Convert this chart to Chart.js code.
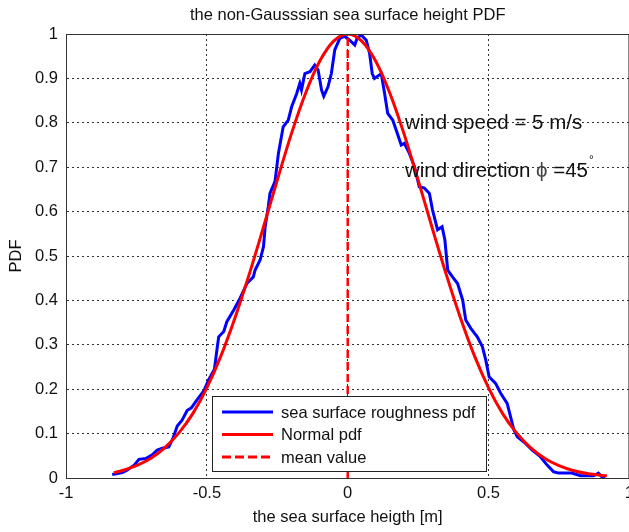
<!DOCTYPE html>
<html>
<head>
<meta charset="utf-8">
<title>sea surface height PDF</title>
<script src="https://cdn.jsdelivr.net/npm/chart.js@4.4.1/dist/chart.umd.min.js"></script>
<style>
    html, body { margin: 0; padding: 0; overflow: hidden; background: #fff; }
    canvas { display: block; }
</style>
</head>
<body>
<canvas id="pdfChart" width="640" height="532"></canvas>
<script>
// measured pdf of the sea surface (x in m, y normalised to peak 1)
const blueX = [-0.836, -0.8, -0.782, -0.758, -0.741, -0.717, -0.694, -0.676, -0.658, -0.635, -0.62, -0.605, -0.588, -0.57, -0.555,
    -0.535, -0.511, -0.494, -0.473, -0.464, -0.458, -0.44, -0.429, -0.405, -0.382, -0.358, -0.335, -0.329, -0.311, -0.299,
    -0.293, -0.282, -0.276, -0.258, -0.246, -0.229, -0.211, -0.199, -0.181, -0.17, -0.164, -0.152, -0.134, -0.117, -0.105,
    -0.093, -0.085, -0.07, -0.058, -0.046, -0.028, -0.011, 0.007, 0.025, 0.033, 0.048, 0.066, 0.078, 0.087, 0.095,
    0.119, 0.131, 0.142, 0.16, 0.172, 0.19, 0.201, 0.219, 0.237, 0.254, 0.272, 0.29, 0.301, 0.319, 0.335,
    0.345, 0.355, 0.372, 0.39, 0.408, 0.419, 0.437, 0.46, 0.478, 0.49, 0.502, 0.525, 0.543, 0.566, 0.578,
    0.59, 0.602, 0.631, 0.655, 0.684, 0.708, 0.731, 0.749, 0.796, 0.826, 0.873, 0.89, 0.902, 0.914];
const blueY = [0.008, 0.012, 0.018, 0.029, 0.042, 0.044, 0.052, 0.063, 0.067, 0.07, 0.09, 0.117, 0.13, 0.152, 0.158,
    0.176, 0.196, 0.221, 0.245, 0.29, 0.318, 0.33, 0.352, 0.378, 0.405, 0.438, 0.453, 0.468, 0.491, 0.521,
    0.566, 0.611, 0.641, 0.668, 0.731, 0.791, 0.806, 0.836, 0.866, 0.889, 0.874, 0.911, 0.915, 0.93, 0.919,
    0.874, 0.86, 0.881, 0.911, 0.964, 0.99, 0.995, 0.986, 0.975, 0.99, 0.998, 0.986, 0.955, 0.911, 0.9,
    0.911, 0.866, 0.821, 0.806, 0.784, 0.75, 0.754, 0.731, 0.701, 0.656, 0.653, 0.641, 0.604, 0.559, 0.566,
    0.536, 0.468, 0.453, 0.438, 0.401, 0.356, 0.337, 0.318, 0.296, 0.266, 0.228, 0.213, 0.191, 0.168, 0.138,
    0.108, 0.093, 0.078, 0.063, 0.048, 0.029, 0.014, 0.011, 0.011, 0.005, 0.005, 0.011, 0.003, 0.0];

// fitted normal pdf
const normalX = [-0.83, -0.8, -0.75, -0.7, -0.65, -0.6, -0.55, -0.5, -0.45, -0.4, -0.35, -0.3, -0.25, -0.2, -0.15, -0.1, -0.05,
    0, 0.05, 0.1, 0.15, 0.2, 0.25, 0.3, 0.35, 0.4, 0.45, 0.5, 0.55, 0.6, 0.65, 0.7, 0.75, 0.8, 0.85, 0.9, 0.92];
const normalY = [0.012, 0.017, 0.028, 0.044, 0.068, 0.101, 0.145, 0.203, 0.275, 0.361, 0.458, 0.563, 0.671, 0.775, 0.866, 0.938, 0.984,
    1, 0.984, 0.938, 0.866, 0.775, 0.671, 0.563, 0.458, 0.361, 0.275, 0.203, 0.145, 0.101, 0.068, 0.044, 0.028, 0.017, 0.010, 0.006, 0.005];

// mean value marker
const meanX = [0, 0];
const meanY = [0, 1];

const legendLabels = ['sea surface roughness pdf', 'Normal pdf', 'mean value'];
const titleText = 'the non-Gausssian sea surface height PDF';
const xLabel = 'the sea surface heigth [m]';
const yLabel = 'PDF';

const FONT = '"Liberation Sans", Arial, Helvetica, sans-serif';
const BLUE = '#0000ff';
const RED = '#ff0000';

function toPoints(xs, ys) {
    return xs.map((x, i) => ({ x: x, y: ys[i] }));
}

// plain tick text: 1, 0.5, -1 ...
function tickText(v) {
    return String(Number(v.toFixed(2)));
}

// title, axes box, legend and the wind text
const decorPlugin = {
    id: 'decor',
    afterDraw(chart) {
        const ctx = chart.ctx;
        const a = chart.chartArea;
        ctx.save();

        // box around the axes
        ctx.strokeStyle = '#333';
        ctx.lineWidth = 1;
        ctx.setLineDash([]);
        ctx.strokeRect(a.left + 0.5, a.top + 0.5, a.right - a.left - 1, a.bottom - a.top);

        // title
        ctx.fillStyle = '#111';
        ctx.font = '16.5px ' + FONT;
        ctx.textAlign = 'center';
        ctx.textBaseline = 'middle';
        ctx.fillText(titleText, (a.left + a.right) / 2, 15);

        // wind text
        ctx.textAlign = 'left';
        ctx.textBaseline = 'alphabetic';
        ctx.font = '20.5px ' + FONT;
        ctx.fillStyle = '#111';
        ctx.fillText('wind speed = 5 m/s', 405, 129);
        let tx = 405;
        const part1 = 'wind direction ';
        ctx.fillText(part1, tx, 177);
        tx += ctx.measureText(part1).width;
        ctx.fillStyle = '#444';
        ctx.fillText('\u03d5', tx, 177);
        tx += ctx.measureText('\u03d5').width;
        ctx.fillStyle = '#111';
        ctx.fillText(' =45', tx, 177);
        tx += ctx.measureText(' =45').width;
        ctx.font = '12px ' + FONT;
        ctx.fillText('\u00b0', tx + 1, 164);

        // legend
        const lx = 212.5, ly = 396.5, lw = 274, lh = 75;
        ctx.fillStyle = '#fff';
        ctx.fillRect(lx, ly, lw, lh);
        ctx.strokeStyle = '#222';
        ctx.lineWidth = 1;
        ctx.strokeRect(lx, ly, lw, lh);

        const rows = [
            { color: BLUE, dash: [] },
            { color: RED, dash: [] },
            { color: RED, dash: [9, 4] }
        ];
        ctx.font = '16.5px ' + FONT;
        ctx.textBaseline = 'middle';
        rows.forEach((r, i) => {
            const y = 412 + i * 22.5;
            ctx.strokeStyle = r.color;
            ctx.lineWidth = 3;
            ctx.setLineDash(r.dash);
            ctx.beginPath();
            ctx.moveTo(222, y);
            ctx.lineTo(273, y);
            ctx.stroke();
            ctx.setLineDash([]);
            ctx.fillStyle = '#111';
            ctx.fillText(legendLabels[i], 281, y + 1);
        });

        ctx.restore();
    }
};

const ctx = document.getElementById('pdfChart').getContext('2d');
const pdfChart = new Chart(ctx, {
    type: 'line',
    data: {
        datasets: [
            {
                label: legendLabels[2],
                data: toPoints(meanX, meanY),
                borderColor: RED,
                borderWidth: 2.5,
                borderDash: [8, 4],
                pointRadius: 0,
                order: 0
            },
            {
                label: legendLabels[1],
                data: toPoints(normalX, normalY),
                borderColor: RED,
                borderWidth: 3,
                cubicInterpolationMode: 'monotone',
                pointRadius: 0,
                order: 1
            },
            {
                label: legendLabels[0],
                data: toPoints(blueX, blueY),
                borderColor: BLUE,
                borderWidth: 3,
                tension: 0,
                pointRadius: 0,
                order: 2
            }
        ]
    },
    options: {
        responsive: false,
        animation: false,
        layout: { padding: { left: 0, right: 9, top: 34, bottom: 0 } },
        plugins: {
            legend: { display: false },
            tooltip: { enabled: false },
            title: { display: false }
        },
        scales: {
            x: {
                type: 'linear',
                min: -1,
                max: 1,
                afterFit: s => { s.height = 54; },
                ticks: {
                    stepSize: 0.5,
                    padding: 6,
                    color: '#111',
                    font: { family: FONT, size: 16.5 },
                    callback: tickText
                },
                grid: { color: '#333', lineWidth: 1, drawTicks: false },
                border: { color: '#333', dash: [2, 3] },
                title: {
                    display: true,
                    text: xLabel,
                    color: '#111',
                    font: { family: FONT, size: 16.5 },
                    padding: { top: 0, bottom: 5 }
                }
            },
            y: {
                type: 'linear',
                min: 0,
                max: 1,
                afterFit: s => { s.width = 66; },
                ticks: {
                    stepSize: 0.1,
                    padding: 8,
                    color: '#111',
                    font: { family: FONT, size: 16.5 },
                    callback: tickText
                },
                grid: { color: '#333', lineWidth: 1, drawTicks: false },
                border: { color: '#333', dash: [2, 3] },
                title: {
                    display: true,
                    text: yLabel,
                    color: '#111',
                    font: { family: FONT, size: 16.5 },
                    padding: { top: 7, bottom: 0 }
                }
            }
        }
    },
    plugins: [decorPlugin]
});
</script>
</body>
</html>
